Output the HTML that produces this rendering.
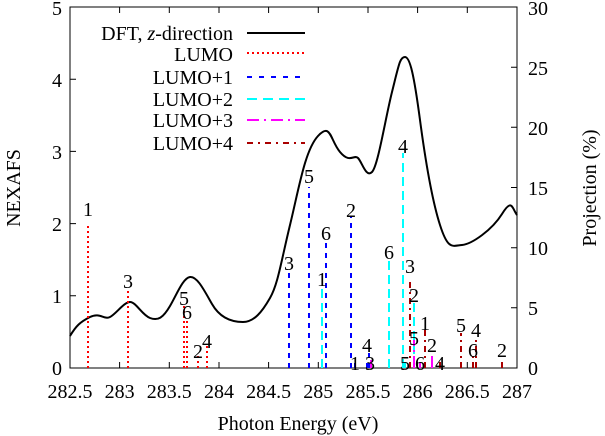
<!DOCTYPE html>
<html><head><meta charset="utf-8"><style>body{margin:0;background:#fff}svg{display:block}svg text{font-family:"Liberation Serif","DejaVu Serif",serif;font-size:20px}</style></head><body>
<svg width="605" height="436" viewBox="0 0 605 436" xmlns="http://www.w3.org/2000/svg">
<rect width="605" height="436" fill="#fff"/>
<g stroke="#000" stroke-width="1" fill="none">
<rect x="70" y="7" width="447" height="361"/>
<path d="M119.6 368v-6M169.3 368v-6M219 368v-6M268.6 368v-6M318.3 368v-6M368 368v-6M417.6 368v-6M467.3 368v-6M119.6 7v6M169.3 7v6M219 7v6M268.6 7v6M318.3 7v6M368 7v6M417.6 7v6M467.3 7v6"/>
<path d="M70 295.8h6M70 223.6h6M70 151.4h6M70 79.2h6M517 307.8h-6M517 247.7h-6M517 187.5h-6M517 127.3h-6M517 67.2h-6"/>
</g>
<g text-anchor="end">
<text x="62" y="375">0</text><text x="62" y="303">1</text><text x="62" y="231">2</text><text x="62" y="159">3</text><text x="62" y="87">4</text><text x="62" y="15">5</text>
</g>
<g text-anchor="start">
<text x="528" y="375">0</text><text x="528" y="315">5</text><text x="528" y="255">10</text><text x="528" y="195">15</text><text x="528" y="135">20</text><text x="528" y="75">25</text><text x="528" y="15">30</text>
</g>
<g text-anchor="middle">
<text x="70" y="398">282.5</text><text x="119.6" y="398">283</text><text x="169.3" y="398">283.5</text><text x="219" y="398">284</text><text x="268.6" y="398">284.5</text><text x="318.3" y="398">285</text><text x="368" y="398">285.5</text><text x="417.6" y="398">286</text><text x="467.3" y="398">286.5</text><text x="517" y="398">287</text>
<text x="298" y="430">Photon Energy (eV)</text>
<text transform="translate(20,188) rotate(-90)">NEXAFS</text>
<text transform="translate(596,188) rotate(-90)">Projection (%)</text>
</g>
<g text-anchor="end">
<text x="233" y="40">DFT, <tspan font-style="italic">z</tspan>-direction</text>
<text x="233" y="61">LUMO</text><text x="233" y="84">LUMO+1</text><text x="233" y="106">LUMO+2</text><text x="233" y="127">LUMO+3</text><text x="233" y="150">LUMO+4</text>
</g>
<g fill="none" stroke-width="2">
<path d="M247 33h58" stroke="#000"/>
<path d="M247 53h58" stroke="#f00" stroke-dasharray="2,3"/>
<path d="M247 77h58" stroke="#00f" stroke-dasharray="5,7"/>
<path d="M247 99h58" stroke="#0ff" stroke-dasharray="10,6"/>
<path d="M247 120h58" stroke="#f0f" stroke-dasharray="12,5,2,5"/>
<path d="M247 143h58" stroke="#a00" stroke-dasharray="6,5,2,5"/>
</g>
<path fill="none" stroke="#000" stroke-width="2" d="M70 336C76 326 80 322 90 317S104 320 110 317S124 302 130 302S142 315 150 318S163 318 170 306S183 278 190 277S204 290 212 304S232 322 243 322S262 312 270 298S281 262 290 225S305 150 318 136S330 140 340 152S354 154 358 158S366 178 372 172S385 120 392 92S400 57 405 57S414 75 420 120S432 200 440 225S452 246 462 245S492 230 502 214S512 208 517 215"/>
<g fill="none" stroke-width="2">
<g stroke="#f00" stroke-dasharray="2,3">
<path d="M88 368V225M128 368V290M184 368V305M187 368V318M198 368V355M207 368V346"/>
</g>
<g stroke="#00f" stroke-dasharray="5,5">
<path d="M289 368V270M309 368V187M326 368V240M351 368V216M355 368V360M369 368V352M367 368V358"/>
</g>
<g stroke="#0ff" stroke-dasharray="9,5">
<path d="M322 368V285M389 368V260M403 368V153M414 368V300M405 368V362"/>
</g>
<g stroke="#f0f" stroke-dasharray="12,4,2,4">
<path d="M414 368V340M432 368V353M420 368V362M371 368V360"/>
</g>
<g stroke="#a00" stroke-dasharray="6,4,2,4">
<path d="M410 368V280M425 368V330M461 368V333M476 368V338M473 368V355M502 368V358M440 368V362"/>
</g>
</g>
<g text-anchor="middle">
<text x="88" y="216">1</text><text x="128" y="288">3</text><text x="184" y="305">5</text><text x="187" y="319">6</text><text x="198" y="358">2</text><text x="207" y="348">4</text>
<text x="289" y="270">3</text><text x="309" y="183">5</text><text x="326" y="240">6</text><text x="351" y="217">2</text><text x="355" y="370">1</text><text x="367" y="352">4</text><text x="370" y="370">3</text>
<text x="322" y="286">1</text><text x="389" y="259">6</text><text x="403" y="153">4</text><text x="414" y="302">2</text><text x="405" y="370">5</text>
<text x="414" y="345">5</text><text x="432" y="352">2</text><text x="420" y="370">6</text><text x="440" y="370">4</text>
<text x="410" y="273">3</text><text x="425" y="330">1</text><text x="461" y="332">5</text><text x="476" y="337">4</text><text x="473" y="357">6</text><text x="502" y="357">2</text>
</g>
</svg>
</body></html>
